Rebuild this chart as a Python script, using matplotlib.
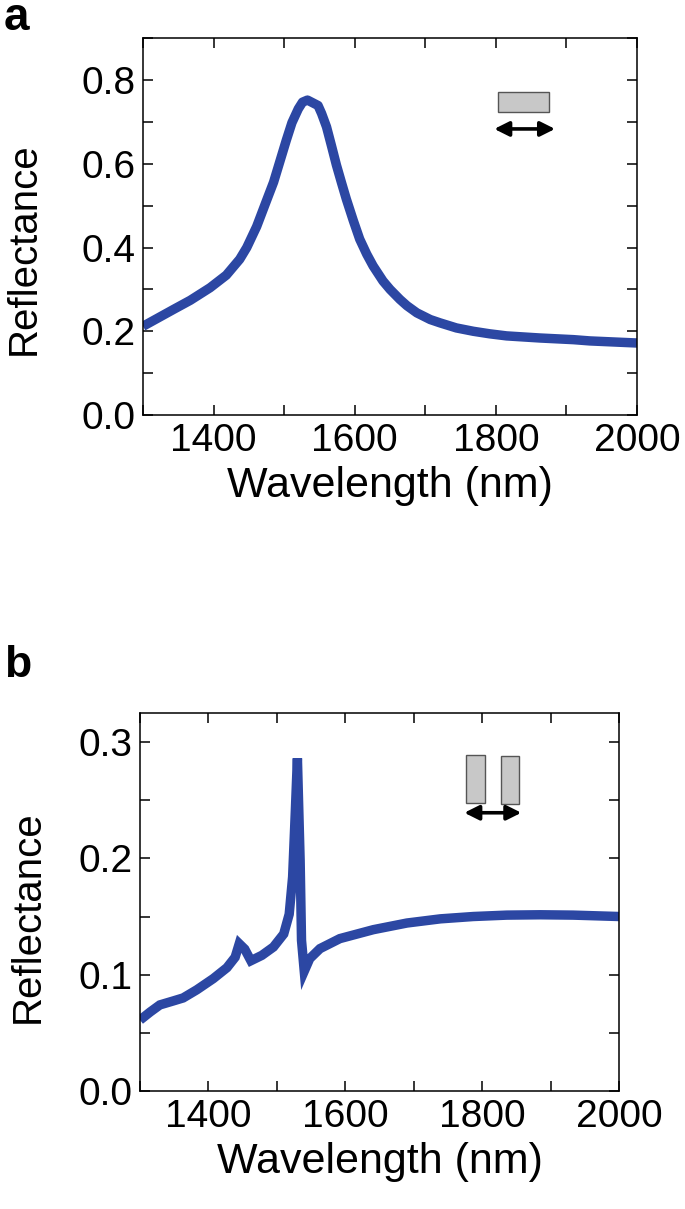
import matplotlib.pyplot as plt
from matplotlib.patches import Rectangle
from matplotlib.ticker import MultipleLocator

plt.rcParams['font.family'] = ['Liberation Sans', 'DejaVu Sans']

# panel a: single bar
wl_a = [1300, 1343, 1367, 1395, 1418, 1437, 1447, 1461, 1475, 1485, 1494, 1503,
        1511, 1520, 1526, 1533, 1548, 1553, 1560, 1567, 1574, 1581, 1588, 1598,
        1607, 1617, 1626, 1640, 1650, 1664, 1674, 1688, 1707, 1721, 1744, 1768,
        1791, 1815, 1862, 1910, 1933, 2000]
refl_a = [0.212, 0.252, 0.274, 0.304, 0.334, 0.372, 0.400, 0.450, 0.512, 0.556, 0.606, 0.656,
          0.698, 0.731, 0.747, 0.752, 0.739, 0.720, 0.688, 0.643, 0.597, 0.556, 0.516, 0.464,
          0.420, 0.384, 0.356, 0.320, 0.300, 0.276, 0.261, 0.244, 0.228, 0.220, 0.208, 0.200,
          0.194, 0.189, 0.184, 0.180, 0.177, 0.172]

# panel b: bar pair
wl_b = [1300, 1315, 1329, 1349, 1363, 1383, 1407, 1427, 1439, 1445, 1453,
        1462, 1478, 1495, 1510, 1518, 1523, 1527, 1530, 1534, 1536, 1540,
        1548, 1563, 1592, 1641, 1690, 1739, 1787, 1836, 1885, 1933, 2000]
refl_b = [0.061, 0.068, 0.074, 0.0775, 0.080, 0.087, 0.0966, 0.106, 0.115, 0.1266, 0.122,
          0.112, 0.1166, 0.1238, 0.135, 0.152, 0.184, 0.241, 0.286, 0.198, 0.1295, 0.103,
          0.1138, 0.1224, 0.131, 0.1387, 0.1444, 0.148, 0.150, 0.1512, 0.1515, 0.1512, 0.150]

line_col = '#2c47a3'
fig = plt.figure(figsize=(6.85, 12.09), dpi=100)
ax_a = fig.add_axes([0.2088, 0.6567, 0.7212, 0.3118])
ax_b = fig.add_axes([0.2044, 0.0976, 0.6993, 0.3127])


def style(ax, ymax, ymaj, ymin, ylab_x, ylab_y):
    ax.set_xlim(1300, 2000)
    ax.set_ylim(0, ymax)
    ax.xaxis.set_major_locator(MultipleLocator(200))
    ax.xaxis.set_minor_locator(MultipleLocator(100))
    ax.yaxis.set_major_locator(MultipleLocator(ymaj))
    ax.yaxis.set_minor_locator(MultipleLocator(ymin))
    ax.yaxis.set_major_formatter(lambda v, p: f'{v:.1f}')
    ax.tick_params(which='both', direction='in', top=True, right=True,
                   length=7, width=1.1)
    ax.tick_params(axis='y', labelsize=28, pad=5.5)
    ax.tick_params(axis='x', labelsize=28, pad=6)
    for s in ax.spines.values():
        s.set_linewidth(1.1)
    ax.set_xlabel('Wavelength (nm)', fontsize=31, labelpad=5)
    ax.set_ylabel('Reflectance', fontsize=29)
    ax.yaxis.set_label_coords(ylab_x, ylab_y)


ax_a.plot(wl_a, refl_a, color=line_col, lw=6.8, solid_joinstyle='round', solid_capstyle='butt')
style(ax_a, 0.9, 0.2, 0.1, -0.202, 0.44)

ax_b.plot(wl_b, refl_b, color=line_col, lw=6.8, solid_joinstyle='miter', solid_capstyle='butt')
style(ax_b, 0.325, 0.1, 0.05, -0.194, 0.46)

# insets
ax_a.add_patch(Rectangle((0.719, 0.8045), 0.103, 0.053, facecolor='#c8c8c8',
                         edgecolor='#555555', lw=1.0, transform=ax_a.transAxes))
ax_a.annotate('', xy=(0.834, 0.759), xytext=(0.711, 0.759), xycoords='axes fraction',
              arrowprops=dict(arrowstyle='<|-|>', color='black', lw=2.6, mutation_scale=22,
                              shrinkA=0, shrinkB=0))

ax_b.add_patch(Rectangle((0.6806, 0.761), 0.039, 0.128, facecolor='#c8c8c8',
                         edgecolor='#555555', lw=1.0, transform=ax_b.transAxes))
ax_b.add_patch(Rectangle((0.753, 0.758), 0.039, 0.128, facecolor='#c8c8c8',
                         edgecolor='#555555', lw=1.0, transform=ax_b.transAxes))
ax_b.annotate('', xy=(0.796, 0.736), xytext=(0.677, 0.736), xycoords='axes fraction',
              arrowprops=dict(arrowstyle='<|-|>', color='black', lw=2.6, mutation_scale=22,
                              shrinkA=0, shrinkB=0))

fig.text(0.005, 0.9752, 'a', fontsize=33, fontweight='bold', va='baseline')
fig.text(0.006, 0.440, 'b', fontsize=32, fontweight='bold', va='baseline')

fig.savefig('out.png', dpi=100)
